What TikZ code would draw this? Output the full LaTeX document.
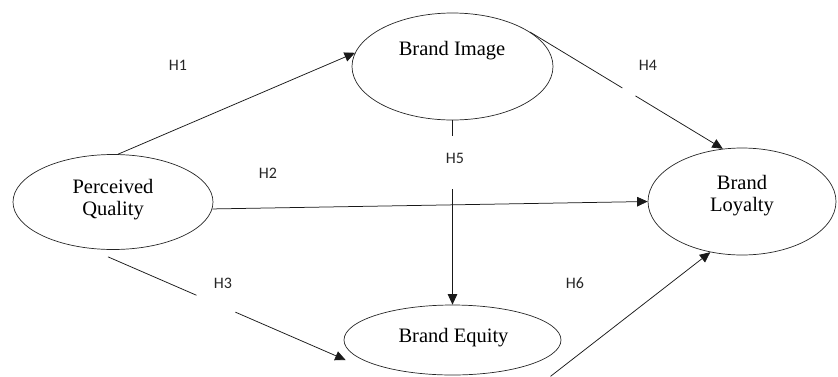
\documentclass[tikz,border=0pt]{standalone}
\usepackage{fontspec}
\setmainfont{Liberation Serif}
\newfontfamily\labfont{Carlito}
\usetikzlibrary{shapes.geometric,arrows.meta,calc}
\tikzset{
  construct/.style={ellipse, draw=black!85, line width=0.7pt, inner sep=0pt},
  ctext/.style={font=\fontsize{20.5}{22}\selectfont, align=center, inner sep=0pt},
  hyp/.style={font=\labfont\fontsize{16}{18}\selectfont, inner sep=0pt, text=black!85},
  conn/.style={line width=0.75pt, draw=black!90},
  arr/.style={conn, -{Triangle[length=10.5pt,width=9.5pt]}}
}
\begin{document}
\begin{tikzpicture}[x=1pt,y=-1pt]
\useasboundingbox (0,0) rectangle (838,376);
% constructs
\node[construct, minimum width=200pt, minimum height=95pt] (pq) at (113,202) {};
\node[construct, minimum width=201pt, minimum height=107pt] (bi) at (452.5,66.5) {};
\node[construct, minimum width=217pt, minimum height=70pt] (be) at (452.5,340) {};
\node[construct, minimum width=188pt, minimum height=107pt] (bl) at (742,201.5) {};
% texts
\node[ctext] (pqt) at (113,200) {Perceived\\Quality};
\node[ctext, anchor=base] (bit) at (452,55) {Brand Image};
\node[ctext, anchor=base] (bet) at (453.5,342) {Brand Equity};
\node[ctext] (blt) at (742,196) {Brand\\Loyalty};
% hypothesis labels
\node[hyp] (h1) at (178,65) {H1};
\node[hyp] (h2) at (268,173) {H2};
\node[hyp] (h3) at (223,283) {H3};
\node[hyp] (h4) at (648,65) {H4};
\node[hyp] (h5) at (455,158) {H5};
\node[hyp] (h6) at (575,283) {H6};
% helper coordinates
\coordinate (h3s) at ($(pq.south)+(-5,7)$);
\coordinate (h3e) at ($(be.west)+(2,20)$);
\coordinate (h6s) at ($(be.south)+(98,1)$);
% H1
\draw[arr] (pq.84) -- (bi.172);
% H2
\draw[arr] (pq.-4) -- (bl.west);
% H3 (broken)
\draw[conn] (h3s) -- ($(h3s)!0.372!(h3e)$);
\draw[arr] ($(h3s)!0.536!(h3e)$) -- (h3e);
% H4 (broken)
\draw[conn] (bi.24) -- ($(bi.24)!0.479!(bl.110)$);
\draw[arr] ($(bi.24)!0.547!(bl.110)$) -- (bl.110);
% H5 (broken)
\draw[conn] (bi.south) -- ($(bi.south)!0.086!(be.north)$);
\draw[arr] ($(bi.south)!0.373!(be.north)$) -- (be.north);
% H6
\draw[arr] (h6s) -- (bl.238);
\end{tikzpicture}
\end{document}
